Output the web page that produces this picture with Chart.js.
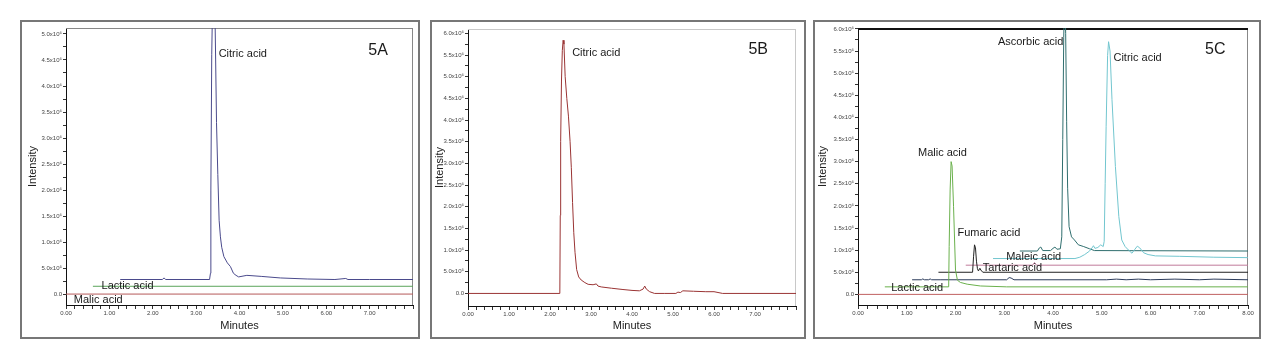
<!DOCTYPE html>
<html>
<head>
<meta charset="utf-8">
<script src="https://cdn.jsdelivr.net/npm/chart.js@4.4.1/dist/chart.umd.min.js"></script>
<style>
  body { margin: 0; background: #fff; width: 1280px; height: 360px; position: relative; overflow: hidden; }
  .frame { position: absolute; top: 20px; height: 319px; border: 2px solid #777; box-sizing: border-box; background: #fff; }
  .frame canvas { display: block; }
</style>
</head>
<body>
<div class="frame" style="left:20px;width:400px"><canvas id="chartA" width="396" height="315"></canvas></div>
<div class="frame" style="left:430px;width:376px"><canvas id="chartB" width="372" height="315"></canvas></div>
<div class="frame" style="left:813px;width:448px"><canvas id="chartC" width="444" height="315"></canvas></div>
<script>
// retention time in minutes (_t), intensity in units of 10^6 (_v)

// --- 5A ---
const malicA_t = [0, 8];
const malicA_v = [0, 0];
const lacticA_t = [0.62, 8];
const lacticA_v = [0.15, 0.15];
const citricA_t = [1.25, 2.22, 2.26, 2.30, 3.31, 3.33, 3.34, 3.36, 3.39, 3.42, 3.45, 3.47, 3.50, 3.53, 3.56, 3.59, 3.64, 3.72, 3.79, 3.86, 3.92, 3.98, 4.17, 4.50, 4.94, 5.56, 6.20, 6.45, 6.50, 7.00, 8.00];
const citricA_v = [0.28, 0.28, 0.31, 0.28, 0.28, 0.40, 2.0, 4.6, 6.2, 6.2, 4.5, 3.3, 2.3, 1.42, 1.10, 0.90, 0.72, 0.60, 0.53, 0.40, 0.36, 0.33, 0.36, 0.34, 0.31, 0.29, 0.28, 0.30, 0.28, 0.28, 0.28];

// --- 5B ---
const citricB_t = [0, 2.24, 2.25, 2.26, 2.28, 2.30, 2.32, 2.34, 2.37, 2.41, 2.45, 2.49, 2.52, 2.55, 2.58, 2.61, 2.65, 2.70, 2.76, 2.85, 2.93, 3.05, 3.13, 3.17, 3.25, 3.50, 3.78, 4.00, 4.18, 4.27, 4.31, 4.35, 4.43, 4.55, 4.80, 5.07, 5.12, 5.18, 5.24, 5.50, 5.80, 6.00, 6.21, 7.00, 8.00];
const citricB_v = [0, 0, 1.8, 3.5, 4.9, 5.6, 5.84, 5.75, 5.0, 4.5, 4.09, 3.5, 2.9, 2.1, 1.4, 0.95, 0.55, 0.38, 0.31, 0.25, 0.21, 0.20, 0.22, 0.17, 0.15, 0.12, 0.09, 0.07, 0.06, 0.10, 0.17, 0.10, 0.04, 0, 0, 0, 0.03, 0.02, 0.06, 0.05, 0.04, 0.04, 0, 0, 0];

// --- 5C ---
const baseC_t = [0, 8];
const baseC_v = [0, 0];
const malicC_t = [0.55, 1.86, 1.87, 1.89, 1.91, 1.93, 1.96, 2.00, 2.04, 2.10, 2.24, 2.51, 3.05, 8.00];
const malicC_v = [0.17, 0.17, 1.08, 2.36, 3.0, 2.9, 1.98, 0.55, 0.32, 0.27, 0.23, 0.19, 0.17, 0.17];
const noiseC_t = [1.11, 1.30, 1.33, 1.36, 1.45, 1.48, 1.51, 1.70, 3.05, 3.10, 3.14, 3.20, 5.10, 5.30, 5.50, 5.75, 6.00, 6.50, 7.00, 7.30, 8.00];
const noiseC_v = [0.33, 0.33, 0.35, 0.33, 0.33, 0.35, 0.33, 0.33, 0.33, 0.38, 0.37, 0.33, 0.33, 0.345, 0.33, 0.345, 0.33, 0.345, 0.33, 0.345, 0.33];
const fumaricC_t = [1.65, 2.35, 2.37, 2.39, 2.41, 2.43, 2.45, 2.47, 2.50, 2.52, 2.56, 8.00];
const fumaricC_v = [0.50, 0.50, 0.85, 1.12, 1.05, 0.75, 0.58, 0.53, 0.59, 0.55, 0.50, 0.50];
const maleicC_t = [2.21, 3.58, 3.62, 3.66, 8.00];
const maleicC_v = [0.66, 0.66, 0.72, 0.66, 0.66];
const citricC_t = [2.77, 4.45, 4.55, 4.65, 4.75, 4.80, 4.83, 4.86, 4.92, 4.98, 5.03, 5.05, 5.07, 5.09, 5.12, 5.14, 5.17, 5.21, 5.28, 5.35, 5.41, 5.48, 5.55, 5.62, 5.68, 5.73, 5.78, 5.86, 5.95, 6.10, 6.60, 7.30, 8.00];
const citricC_v = [0.81, 0.81, 0.84, 0.90, 0.98, 1.05, 1.10, 1.04, 1.06, 1.12, 1.08, 1.2, 2.5, 3.8, 5.4, 5.71, 5.5, 4.4, 2.89, 1.76, 1.23, 1.08, 1.0, 0.93, 1.02, 1.09, 1.05, 0.94, 0.90, 0.87, 0.86, 0.84, 0.83];
const ascorbicC_t = [3.32, 3.68, 3.72, 3.75, 3.79, 3.95, 4.00, 4.04, 4.08, 4.15, 4.18, 4.20, 4.22, 4.24, 4.26, 4.28, 4.30, 4.33, 4.38, 4.44, 4.52, 4.63, 4.75, 4.85, 8.00];
const ascorbicC_v = [0.98, 0.98, 1.05, 1.07, 0.99, 0.99, 1.04, 1.07, 1.02, 1.03, 1.3, 3.5, 5.8, 6.8, 5.9, 3.9, 2.4, 1.53, 1.3, 1.23, 1.12, 1.08, 1.03, 0.99, 0.98];

// tick labels
const xLabelsAB = [0, 1, 2, 3, 4, 5, 6, 7];
const xLabelsC = [0, 1, 2, 3, 4, 5, 6, 7, 8];
const yLabelsA = [0, 0.5, 1.0, 1.5, 2.0, 2.5, 3.0, 3.5, 4.0, 4.5, 5.0];
const yLabelsBC = [0, 0.5, 1.0, 1.5, 2.0, 2.5, 3.0, 3.5, 4.0, 4.5, 5.0, 5.5, 6.0];

// peak names: [text, minutes, intensity]
const notesA = [["Citric acid", 3.52, 4.62], ["Lactic acid", 0.82, 0.15], ["Malic acid", 0.18, -0.12]];
const notesB = [["Citric acid", 2.54, 5.54]];
const notesC = [["Ascorbic acid", 2.87, 5.70], ["Citric acid", 5.24, 5.34], ["Malic acid", 1.23, 3.19], ["Fumaric acid", 2.04, 1.38], ["Maleic acid", 3.04, 0.85], ["Tartaric acid", 2.56, 0.60], ["Lactic acid", 0.68, 0.14]];

const FONT = '"Liberation Sans", Arial, sans-serif';
const r2 = v => Math.round(v * 100) / 100;
const pts = (t, v) => t.map((x, i) => ({ x, y: v[i] }));
const yFmt = v => v === 0 ? '0.0' : v < 1 ? (v * 10).toFixed(1) + 'x10⁵' : v.toFixed(1) + 'x10⁶';

const notes = {
  id: 'notes',
  afterDatasetsDraw(chart, args, opts) {
    const { ctx, scales: { x, y } } = chart;
    ctx.save();
    ctx.fillStyle = '#1a1a1a';
    ctx.textAlign = 'left';
    ctx.textBaseline = 'middle';
    ctx.font = '11px ' + FONT;
    opts.items.forEach(([text, tx, ty]) => {
      ctx.fillText(text, x.getPixelForValue(tx), y.getPixelForValue(ty));
    });
    ctx.font = '16px ' + FONT;
    ctx.fillText(opts.tag, x.getPixelForValue(opts.tagAt[0]), y.getPixelForValue(opts.tagAt[1]));
    ctx.restore();
  }
};

const plotBox = {
  id: 'plotBox',
  beforeDatasetsDraw(chart, args, opts) {
    const { ctx, chartArea: { left, top, right, bottom } } = chart;
    ctx.save();
    ctx.strokeStyle = opts.rightColor;
    ctx.lineWidth = 1;
    ctx.beginPath();
    ctx.moveTo(right - 0.5, top);
    ctx.lineTo(right - 0.5, bottom);
    ctx.stroke();
    ctx.strokeStyle = opts.topColor;
    ctx.lineWidth = opts.topWidth;
    ctx.beginPath();
    ctx.moveTo(left, top + opts.topWidth / 2);
    ctx.lineTo(right, top + opts.topWidth / 2);
    ctx.stroke();
    ctx.restore();
  }
};

function trace(t, v, color) {
  return { data: pts(t, v), borderColor: color, borderWidth: 1, pointRadius: 0, tension: 0, fill: false };
}

function panel(id, p) {
  const xTicks = [];
  for (let i = 0; i <= 40; i++) xTicks.push(r2(i * 0.2));
  const yTicks = [];
  for (let v = 0; v <= p.yLabels[p.yLabels.length - 1] + 0.001; v += 0.25) yTicks.push(r2(v));

  new Chart(document.getElementById(id), {
    type: 'line',
    data: { datasets: p.datasets },
    options: {
      responsive: false,
      animation: false,
      devicePixelRatio: 1,
      layout: { padding: { left: 0, right: p.padRight, top: p.padTop, bottom: 0 } },
      plugins: {
        legend: { display: false },
        tooltip: { enabled: false },
        notes: { items: p.notes, tag: p.tag, tagAt: p.tagAt },
        plotBox: { topColor: p.topColor, topWidth: p.topWidth, rightColor: p.rightColor }
      },
      scales: {
        x: {
          type: 'linear', min: 0, max: 8,
          afterBuildTicks: s => { s.ticks = xTicks.map(v => ({ value: v })); },
          afterFit: s => { s.height = p.xHeight; },
          ticks: {
            autoSkip: false, maxRotation: 0, minRotation: 0, padding: 1,
            color: '#444', font: { size: 6, family: FONT },
            callback: v => p.xLabels.includes(r2(v)) ? r2(v).toFixed(2) : ''
          },
          grid: { drawOnChartArea: false, tickLength: 4, tickColor: '#333' },
          border: { color: '#111', width: 1 },
          title: { display: true, text: 'Minutes', color: '#222', font: { size: 11, family: FONT }, padding: { top: 0, bottom: 4 } }
        },
        y: {
          type: 'linear', min: p.yMin, max: p.yMax,
          afterBuildTicks: s => { s.ticks = yTicks.map(v => ({ value: v })); },
          afterFit: s => { s.width = p.yWidth; },
          ticks: {
            autoSkip: false, padding: 1,
            color: '#444', font: { size: 6, family: FONT },
            callback: v => p.yLabels.includes(r2(v)) ? yFmt(r2(v)) : ''
          },
          grid: { drawOnChartArea: false, tickLength: 3, tickColor: '#333' },
          border: { color: '#111', width: 1 },
          title: { display: true, text: 'Intensity', color: '#222', font: { size: 11, family: FONT }, padding: { top: p.titlePad, bottom: 0 } }
        }
      }
    },
    plugins: [notes, plotBox]
  });
}

panel('chartA', {
  datasets: [
    trace(malicA_t, malicA_v, '#b55a5a'),
    trace(lacticA_t, lacticA_v, '#5aa55a'),
    trace(citricA_t, citricA_v, '#4a4a8c')
  ],
  yMin: -0.21, yMax: 5.115, yLabels: yLabelsA, xLabels: xLabelsAB,
  yWidth: 44, xHeight: 32, padRight: 5, padTop: 6, titlePad: 4,
  notes: notesA, tag: '5A', tagAt: [6.97, 4.69],
  topColor: '#888', topWidth: 1, rightColor: '#888'
});

panel('chartB', {
  datasets: [
    trace(citricB_t, citricB_v, '#9a3434')
  ],
  yMin: -0.29, yMax: 6.1, yLabels: yLabelsBC, xLabels: xLabelsAB,
  yWidth: 36, xHeight: 31, padRight: 8, padTop: 7, titlePad: 1,
  notes: notesB, tag: '5B', tagAt: [6.84, 5.63],
  topColor: '#c8c8c8', topWidth: 1, rightColor: '#c8c8c8'
});

panel('chartC', {
  datasets: [
    trace(baseC_t, baseC_v, '#c06060'),
    trace(malicC_t, malicC_v, '#6ab04c'),
    trace(noiseC_t, noiseC_v, '#2b3b5b'),
    trace(fumaricC_t, fumaricC_v, '#222222'),
    trace(maleicC_t, maleicC_v, '#c07a9a'),
    trace(citricC_t, citricC_v, '#72c6cf'),
    trace(ascorbicC_t, ascorbicC_v, '#2f6e6e')
  ],
  yMin: -0.24, yMax: 6.02, yLabels: yLabelsBC, xLabels: xLabelsC,
  yWidth: 43, xHeight: 32, padRight: 11, padTop: 6, titlePad: 1,
  notes: notesC, tag: '5C', tagAt: [7.12, 5.53],
  topColor: '#111', topWidth: 2, rightColor: '#888'
});
</script>
</body>
</html>
